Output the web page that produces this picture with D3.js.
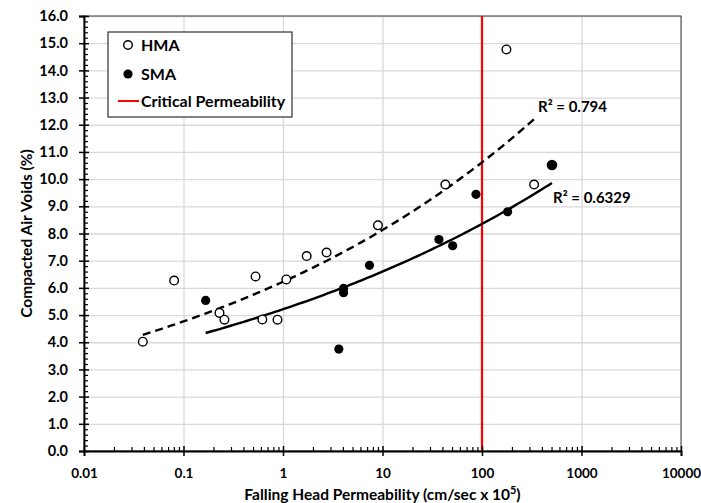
<!DOCTYPE html>
<html>
<head>
<meta charset="utf-8">
<script src="https://cdn.jsdelivr.net/npm/d3@7"></script>
<style>
  body { margin: 0; background: #fff; }
  text { font-family: Lato, "Open Sans", sans-serif; font-weight: bold; fill: #000; }
</style>
</head>
<body>
<div id="chart"></div>
<script>
// HMA points (open circles): permeability (cm/sec x 10^5), air voids (%)
const hmaPerm  = [0.039, 0.0805, 0.23, 0.258, 0.53, 0.62, 0.88, 1.08, 1.73, 2.74, 9.0, 42.8, 176, 334];
const hmaVoids = [4.02, 6.27, 5.08, 4.83, 6.42, 4.84, 4.83, 6.31, 7.17, 7.3, 8.3, 9.8, 14.77, 9.8];

// SMA points (filled circles)
const smaPerm  = [0.167, 3.64, 4.06, 4.06, 7.4, 36.9, 50.7, 87, 181, 505];
const smaVoids = [5.54, 3.75, 5.98, 5.82, 6.83, 7.78, 7.55, 9.44, 8.8, 10.52];

const criticalPerm = 100;
const xTickValues = [0.01, 0.1, 1, 10, 100, 1000, 10000];
const xTickLabels = ["0.01", "0.1", "1", "10", "100", "1000", "10000"];
const yTickValues = d3.range(0, 17, 1);
const r2Labels = { hma: "R² = 0.794", sma: "R² = 0.6329" };

const W = 701, H = 503;
const margin = { top: 16, right: 20, bottom: 52, left: 84 };

const svg = d3.select("#chart").append("svg").attr("width", W).attr("height", H);

const x = d3.scaleLog().domain([0.01, 10000]).range([margin.left, W - margin.right]);
const y = d3.scaleLinear().domain([0, 16]).range([H - margin.bottom, margin.top]);

const pL = margin.left, pR = W - margin.right, pT = margin.top, pB = H - margin.bottom;

// power trendline (least squares on ln x, ln y), like Excel does it
function powerFit(xs, ys) {
  const lx = xs.map(Math.log), ly = ys.map(Math.log);
  const mx = d3.mean(lx), my = d3.mean(ly);
  let sxy = 0, sxx = 0;
  lx.forEach((v, i) => { sxy += (v - mx) * (ly[i] - my); sxx += (v - mx) * (v - mx); });
  const b = sxy / sxx;
  const a = Math.exp(my - b * mx);
  return { a, b, x0: d3.min(xs), x1: d3.max(xs) };
}

// gridlines
svg.append("g")
  .attr("transform", `translate(${pL},0)`)
  .call(d3.axisLeft(y).tickValues(yTickValues).tickSize(-(pR - pL)).tickFormat(""))
  .call(g => g.select(".domain").remove())
  .call(g => g.selectAll("line").attr("stroke", "#d9d9d9").attr("stroke-width", 1.3));

svg.append("g")
  .attr("transform", `translate(0,${pB})`)
  .call(d3.axisBottom(x).tickValues(xTickValues).tickSize(-(pB - pT)).tickFormat(""))
  .call(g => g.select(".domain").remove())
  .call(g => g.selectAll("line").attr("stroke", "#d9d9d9").attr("stroke-width", 1.3));

// plot border
svg.append("rect")
  .attr("x", pL).attr("y", pT).attr("width", pR - pL).attr("height", pB - pT)
  .attr("fill", "none").attr("stroke", "#404040").attr("stroke-width", 1);

// critical permeability line
svg.append("line")
  .attr("x1", x(criticalPerm)).attr("x2", x(criticalPerm))
  .attr("y1", pT).attr("y2", pB)
  .attr("stroke", "#ff0000").attr("stroke-width", 2.2);

// y axis: labels + outer part of major ticks
svg.append("g")
  .attr("transform", `translate(${pL},0)`)
  .call(d3.axisLeft(y).tickValues(yTickValues).tickSize(5).tickPadding(11).tickFormat(d3.format(".1f")))
  .call(g => g.select(".domain").attr("stroke", "#000").attr("stroke-width", 1.8))
  .call(g => g.selectAll("line").attr("stroke", "#000").attr("stroke-width", 1.5))
  .call(g => g.selectAll("text").style("font-size", "14.5px").attr("fill", "#000"));

svg.append("g")
  .attr("transform", `translate(${pL},0)`)
  .call(d3.axisRight(y).tickValues(yTickValues).tickSize(5).tickFormat(""))
  .call(g => g.select(".domain").remove())
  .call(g => g.selectAll("line").attr("stroke", "#000").attr("stroke-width", 1.5));

svg.append("g")
  .attr("transform", `translate(${pL},0)`)
  .call(d3.axisRight(y).tickValues(d3.range(0, 16.01, 0.2).filter(v => Math.abs(v - Math.round(v)) > 0.01)).tickSize(4).tickFormat(""))
  .call(g => g.select(".domain").remove())
  .call(g => g.selectAll("line").attr("stroke", "#000").attr("stroke-width", 1.2));

// x axis
svg.append("g")
  .attr("transform", `translate(0,${pB})`)
  .call(d3.axisBottom(x).tickValues(xTickValues).tickSize(5).tickPadding(12)
    .tickFormat((d, i) => xTickLabels[i]))
  .call(g => g.select(".domain").attr("stroke", "#000").attr("stroke-width", 1.8))
  .call(g => g.selectAll("line").attr("stroke", "#000").attr("stroke-width", 1.5))
  .call(g => g.selectAll("text").style("font-size", "13.5px").attr("fill", "#000"));

svg.append("g")
  .attr("transform", `translate(0,${pB})`)
  .call(d3.axisTop(x).tickValues(xTickValues).tickSize(5).tickFormat(""))
  .call(g => g.select(".domain").remove())
  .call(g => g.selectAll("line").attr("stroke", "#000").attr("stroke-width", 1.5));

const minorX = [];
xTickValues.slice(0, -1).forEach(d => { for (let k = 2; k <= 9; k++) minorX.push(d * k); });
svg.append("g")
  .attr("transform", `translate(0,${pB})`)
  .call(d3.axisTop(x).tickValues(minorX).tickSize(4).tickFormat(""))
  .call(g => g.select(".domain").remove())
  .call(g => g.selectAll("line").attr("stroke", "#000").attr("stroke-width", 1.2));

// trendlines
function drawTrend(fit, dash) {
  const pts = d3.range(0, 101).map(i => {
    const lv = Math.log10(fit.x0) + (Math.log10(fit.x1) - Math.log10(fit.x0)) * i / 100;
    const v = Math.pow(10, lv);
    return [v, fit.a * Math.pow(v, fit.b)];
  });
  svg.append("path")
    .datum(pts)
    .attr("d", d3.line().x(d => x(d[0])).y(d => y(d[1])))
    .attr("fill", "none").attr("stroke", "#000").attr("stroke-width", 2.4)
    .attr("stroke-dasharray", dash);
}
const hmaFit = powerFit(hmaPerm, hmaVoids);
const smaFit = powerFit(smaPerm, smaVoids);
drawTrend(hmaFit, "8,5");
drawTrend(smaFit, null);

// points
svg.append("g").selectAll("circle")
  .data(hmaPerm.map((p, i) => [p, hmaVoids[i]]))
  .join("circle")
  .attr("cx", d => x(d[0])).attr("cy", d => y(d[1])).attr("r", 4.3)
  .attr("fill", "#fff").attr("stroke", "#000").attr("stroke-width", 1.4);

svg.append("g").selectAll("circle")
  .data(smaPerm.map((p, i) => [p, smaVoids[i]]))
  .join("circle")
  .attr("cx", d => x(d[0])).attr("cy", d => y(d[1]))
  .attr("r", (d, i) => i === smaPerm.length - 1 ? 5.3 : 4.6)
  .attr("fill", "#000");

// R² labels
svg.append("text").attr("x", 538).attr("y", 112).style("font-size", "15px").text(r2Labels.hma);
svg.append("text").attr("x", 553).attr("y", 203).style("font-size", "15px").text(r2Labels.sma);

// axis titles
svg.append("text")
  .attr("transform", `translate(32,${(pT + pB) / 2}) rotate(-90)`)
  .attr("text-anchor", "middle").style("font-size", "15.5px")
  .text("Compacted Air Voids (%)");

const xt = svg.append("text")
  .attr("x", (pL + pR) / 2).attr("y", 500)
  .attr("text-anchor", "middle").style("font-size", "15.5px");
xt.append("tspan").text("Falling Head Permeability (cm/sec x 10");
xt.append("tspan").attr("dy", -6).style("font-size", "11px").text("5");
xt.append("tspan").attr("dy", 6).text(")");

// legend
const lg = svg.append("g");
lg.append("rect").attr("x", 108).attr("y", 32).attr("width", 184).attr("height", 85)
  .attr("fill", "#fff").attr("stroke", "#404040").attr("stroke-width", 1.3);
lg.append("circle").attr("cx", 128).attr("cy", 45).attr("r", 4.3)
  .attr("fill", "#fff").attr("stroke", "#000").attr("stroke-width", 1.4);
lg.append("text").attr("x", 141).attr("y", 50.5).style("font-size", "16px").text("HMA");
lg.append("circle").attr("cx", 128).attr("cy", 74).attr("r", 4.6).attr("fill", "#000");
lg.append("text").attr("x", 141).attr("y", 79.5).style("font-size", "16px").text("SMA");
lg.append("line").attr("x1", 118).attr("x2", 139).attr("y1", 101).attr("y2", 101)
  .attr("stroke", "#ff0000").attr("stroke-width", 2);
lg.append("text").attr("x", 141).attr("y", 106.5).style("font-size", "16px").text("Critical Permeability");
</script>
</body>
</html>
